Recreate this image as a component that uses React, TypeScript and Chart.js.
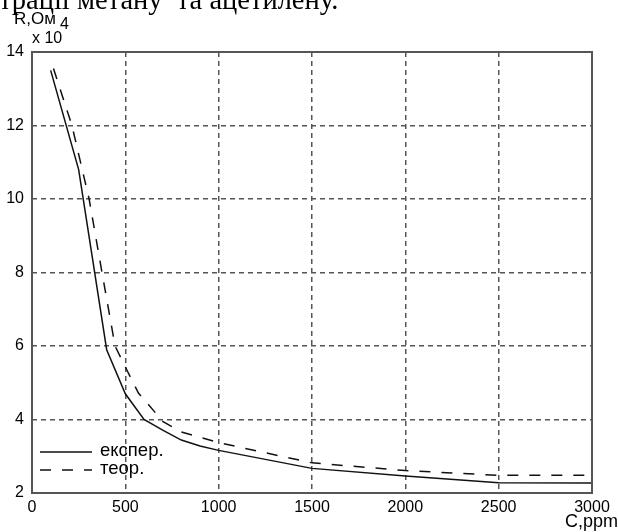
import React, { useEffect, useRef } from "react";
import { Chart, registerables } from "chart.js";

Chart.register(...registerables);

// Experimental curve (експер.)
const expConc = [100, 250, 400, 500, 600, 700, 800, 900, 1000, 1500, 2000, 2500, 3000];
const expR = [13.5, 10.8, 5.9, 4.7, 4.0, 3.71, 3.44, 3.28, 3.16, 2.67, 2.46, 2.28, 2.27];

// Theoretical curve (теор.)
const theoConc = [115, 214, 306, 375, 445, 500, 570, 600, 700, 800, 1000, 1500, 2000, 2500, 3000];
const theoR = [13.55, 12, 10, 8, 6, 5.43, 4.72, 4.55, 3.95, 3.66, 3.37, 2.82, 2.61, 2.48, 2.48];

const xTicks = [0, 500, 1000, 1500, 2000, 2500, 3000];
const yTicks = [2, 4, 6, 8, 10, 12, 14];
const seriesLabels = ["експер.", "теор."];
const headerText = "трації метану\u00a0\u00a0та ацетилену.";

const FONT = "Arial, 'Liberation Sans', sans-serif";

export default function App() {
  const ref = useRef<HTMLCanvasElement | null>(null);
  useEffect(() => {
    const canvas = ref.current;
    if (!canvas) return;
    const textPlugin = {
      id: "labels",
      beforeDraw(chart: any) {
        const ctx = chart.ctx;
        ctx.save();
        ctx.fillStyle = "#fff";
        ctx.fillRect(0, 0, chart.width, chart.height);
        ctx.restore();
      },
      afterDraw(chart: any) {
        const ctx = chart.ctx;
        const xs = chart.scales.x;
        const ys = chart.scales.y;
        const a = chart.chartArea;
        ctx.save();
        // box
        ctx.strokeStyle = "#555";
        ctx.lineWidth = 2;
        ctx.setLineDash([]);
        ctx.strokeRect(a.left, a.top, a.right - a.left, a.bottom - a.top);
        ctx.fillStyle = "#000";
        ctx.font = "16px " + FONT;
        ctx.textAlign = "right";
        ctx.textBaseline = "middle";
        for (const v of yTicks) ctx.fillText(String(v), a.left - 8, ys.getPixelForValue(v));
        ctx.textAlign = "center";
        for (const v of xTicks) ctx.fillText(String(v), xs.getPixelForValue(v), a.bottom + 15);
        ctx.textAlign = "right";
        ctx.font = "18px " + FONT;
        ctx.fillText("C,ppm", chart.width, a.bottom + 29);
        ctx.textAlign = "left";
        ctx.textBaseline = "alphabetic";
        ctx.font = "17px " + FONT;
        ctx.fillText("R,Ом", 14, 24);
        ctx.font = "16px " + FONT;
        ctx.fillText("x 10", 32, 43);
        ctx.fillText("4", 60, 29);
        // legend
        const ds = chart.data.datasets;
        const ly = [a.bottom - 41, a.bottom - 23];
        ds.forEach((d: any, i: number) => {
          ctx.strokeStyle = d.borderColor;
          ctx.lineWidth = d.borderWidth;
          ctx.setLineDash(d.borderDash || []);
          ctx.beginPath();
          ctx.moveTo(a.left + 8, ly[i]);
          ctx.lineTo(a.left + 60, ly[i]);
          ctx.stroke();
          ctx.setLineDash([]);
          ctx.font = "18.5px " + FONT;
          ctx.textBaseline = "middle";
          ctx.fillStyle = "#000";
          ctx.fillText(d.label, a.left + 68, ly[i] - 1);
        });
        ctx.restore();
      },
    };
    const chart = new Chart(canvas, {
      type: "line",
      data: {
        datasets: [
          {
            label: seriesLabels[0],
            data: expConc.map((c, i) => ({ x: c, y: expR[i] })),
            borderColor: "#111",
            borderWidth: 1.5,
            pointRadius: 0,
            tension: 0,
            fill: false,
          },
          {
            label: seriesLabels[1],
            data: theoConc.map((c, i) => ({ x: c, y: theoR[i] })),
            borderColor: "#111",
            borderWidth: 1.5,
            borderDash: [11, 11],
            pointRadius: 0,
            tension: 0,
            fill: false,
          },
        ],
      },
      options: {
        animation: false,
        responsive: false,
        devicePixelRatio: 1,
        layout: { padding: { left: 32, top: 52, right: 26, bottom: 39 }, autoPadding: false },
        plugins: { legend: { display: false }, tooltip: { enabled: false } },
        scales: {
          x: {
            type: "linear",
            min: 0,
            max: 3000,
            afterBuildTicks: (s: any) => {
              s.ticks = xTicks.map((v) => ({ value: v }));
            },
            ticks: { display: false },
            grid: { color: "#555", lineWidth: 1.5, drawTicks: false, borderDash: [5, 4] } as any,
            border: { display: false, dash: [5, 4] },
          },
          y: {
            type: "linear",
            min: 2,
            max: 14,
            afterBuildTicks: (s: any) => {
              s.ticks = yTicks.map((v) => ({ value: v }));
            },
            ticks: { display: false },
            grid: { color: "#555", lineWidth: 1.5, drawTicks: false, borderDash: [5, 4] } as any,
            border: { display: false, dash: [5, 4] },
          },
        },
      },
      plugins: [textPlugin],
    });
    return () => chart.destroy();
  }, []);
  return (
    <div style={{ position: "absolute", left: 0, top: 0, width: 618, height: 532, background: "#fff", overflow: "hidden" }}>
      <canvas ref={ref} width={618} height={532} style={{ position: "absolute", left: 0, top: 0 }} />
      <div
        style={{
          position: "absolute",
          left: -1,
          top: -14,
          fontFamily: "'Liberation Serif', 'Times New Roman', serif",
          fontSize: 28.5,
          lineHeight: "28.5px",
          whiteSpace: "pre",
          color: "#000",
        }}
      >
        {headerText}
      </div>
    </div>
  );
}
